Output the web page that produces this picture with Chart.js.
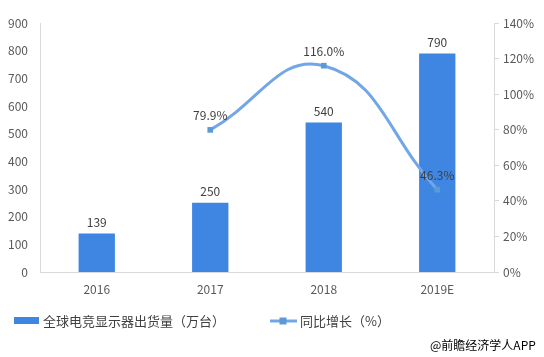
<!DOCTYPE html>
<html><head><meta charset="utf-8">
<script src="https://cdn.jsdelivr.net/npm/chart.js@4"></script>
<style>html,body{margin:0;padding:0;background:#fff;}#wrap{width:544px;height:357px;position:relative;}</style>
</head><body><div id="wrap"><canvas id="c" width="544" height="357"></canvas></div>
<script>
const categories = ['2016','2017','2018','2019E'];
const shipments = [139, 250, 540, 790];
const growth = [null, 79.9, 116.0, 46.3];
const growthLabels = [null, '79.9%', '116.0%', '46.3%'];
const leftTicks = [0,100,200,300,400,500,600,700,800,900];
const rightTicks = [0,20,40,60,80,100,120,140];
const barLegend = '全球电竞显示器出货量（万台）';
const lineLegend = '同比增长（%）';
const credit = '@前瞻经济学人APP';

const FONT = '"Noto Sans CJK SC", "DejaVu Sans", sans-serif';
const labelPlugin = {
  id: 'labels',
  afterDatasetsDraw(chart) {
    const ctx = chart.ctx;
    ctx.save();
    ctx.font = '12px ' + FONT;
    ctx.fillStyle = '#404040';
    ctx.textAlign = 'center';
    ctx.textBaseline = 'bottom';
    chart.getDatasetMeta(1).data.forEach((el, i) => {
      ctx.fillText(String(shipments[i]), el.x, el.y - 5);
    });
    chart.getDatasetMeta(0).data.forEach((el, i) => {
      if (growth[i] == null) return;
      ctx.fillText(growthLabels[i], el.x, el.y - 8);
    });
    // legend
    ctx.textAlign = 'left';
    ctx.textBaseline = 'middle';
    ctx.fillStyle = '#3f86e2';
    ctx.fillRect(14, 317, 25, 7);
    ctx.fillStyle = '#404040';
    ctx.font = '13px ' + FONT;
    ctx.fillText(barLegend, 43, 321);
    ctx.strokeStyle = '#72a6e6';
    ctx.lineWidth = 3;
    ctx.beginPath(); ctx.moveTo(270, 321); ctx.lineTo(297, 321); ctx.stroke();
    ctx.fillStyle = '#5b9bd5';
    ctx.fillRect(279.5, 317.5, 7, 7);
    ctx.fillStyle = '#404040';
    ctx.fillText(lineLegend, 300, 321);
    ctx.fillStyle = '#000';
    ctx.font = '12px ' + FONT;
    ctx.fillText(credit, 430, 345);
    ctx.restore();
  }
};

new Chart(document.getElementById('c'), {
  data: {
    labels: categories,
    datasets: [
      { type: 'line', label: lineLegend, data: growth, yAxisID: 'y1', order: 0,
        borderColor: '#72a6e6', borderWidth: 3, tension: 0.45, spanGaps: false,
        pointStyle: 'rect', pointRadius: 4, pointBackgroundColor: '#5b9bd5', pointBorderColor: '#5b9bd5', pointBorderWidth: 0 },
      { type: 'bar', label: barLegend, data: shipments, yAxisID: 'y', order: 1,
        backgroundColor: '#3f86e2', categoryPercentage: 1, barPercentage: 0.32 }
    ]
  },
  options: {
    responsive: false, animation: false,
    layout: { padding: { top: 23, left: 0, right: 0, bottom: 0 } },
    plugins: { legend: { display: false }, tooltip: { enabled: false } },
    scales: {
      x: {
        grid: { display: false, drawTicks: false },
        border: { color: '#d9d9d9' },
        ticks: { color: '#595959', font: { size: 12, family: FONT }, padding: 10 },
        afterFit(s) { s.height = 85; }
      },
      y: {
        position: 'left', min: 0, max: 900,
        afterBuildTicks(s) { s.ticks = leftTicks.map(v => ({ value: v })); },
        grid: { display: false, drawTicks: false },
        border: { color: '#d9d9d9' },
        ticks: { color: '#595959', font: { size: 12, family: FONT }, padding: 12 },
        afterFit(s) { s.width = 40; }
      },
      y1: {
        position: 'right', min: 0, max: 140,
        afterBuildTicks(s) { s.ticks = rightTicks.map(v => ({ value: v })); },
        grid: { drawOnChartArea: false, drawTicks: true, tickLength: 5, color: '#d9d9d9' },
        border: { color: '#d9d9d9' },
        ticks: { color: '#595959', font: { size: 12, family: FONT }, padding: 4, callback: v => v + '%' },
        afterFit(s) { s.width = 50; }
      }
    }
  },
  plugins: [labelPlugin]
});
</script></body></html>
